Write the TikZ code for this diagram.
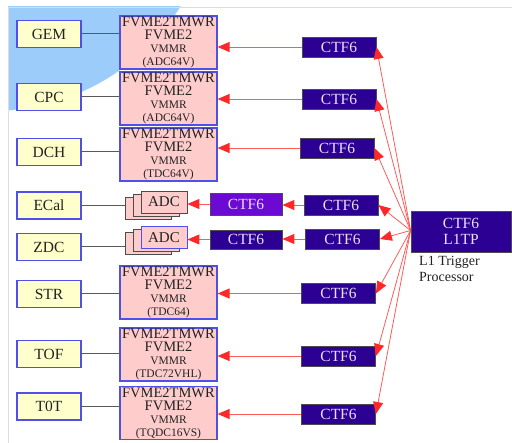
\documentclass[tikz,border=0pt]{standalone}
\usepackage{fontspec}
\setmainfont{Liberation Serif}
\usetikzlibrary{arrows.meta}
\definecolor{detfill}{HTML}{FFFFCC}
\definecolor{detdraw}{HTML}{5050E8}
\definecolor{fvfill}{HTML}{FFCCCC}
\definecolor{ctfdark}{HTML}{2C0092}
\definecolor{ctfpurple}{HTML}{6A0AD2}
\definecolor{ctftext}{HTML}{E8E0FF}
\definecolor{redline}{HTML}{FF5A5A}
\definecolor{redtip}{HTML}{FF2828}
\definecolor{skyblue}{HTML}{9CCCFA}
\definecolor{framegray}{HTML}{DDDDDD}
\definecolor{inktext}{HTML}{222222}
\tikzset{
  det/.style={draw=detdraw, line width=1.2pt, fill=detfill, text=inktext, minimum width=64pt, minimum height=27pt, inner sep=0pt, font=\fontsize{15.5}{15}\selectfont},
  fvme/.style={draw=detdraw, line width=1.2pt, fill=fvfill, text=inktext, minimum width=97pt, minimum height=53pt, inner sep=0pt, align=center, font=\fontsize{14.5}{13}\selectfont},
  ctf/.style={draw=black!70, line width=0.8pt, fill=ctfdark, text=ctftext, minimum width=74pt, minimum height=20pt, inner sep=0pt, font=\fontsize{15.5}{15}\selectfont},
  adcbox/.style={draw=black!70, line width=0.8pt, fill=fvfill, text=inktext, minimum width=46pt, minimum height=22pt, inner sep=0pt, font=\fontsize{15}{15}\selectfont},
  link/.style={draw=black!65, line width=1pt},
  sig/.style={draw=redline, line width=0.9pt, -{Triangle[length=12pt,width=10pt,color=redtip]}},
}
\newcommand{\fvtext}[1]{FVME2TMWR\\FVME2\\\fontsize{11.5}{10}\selectfont VMMR\\\fontsize{11.5}{10}\selectfont #1}
\begin{document}
\begin{tikzpicture}[x=1pt,y=-1pt]
\useasboundingbox (0,0) rectangle (512,443);
\begin{scope}
  \clip (8,7) rectangle (512,443);
  \fill[skyblue] (-9,-113) circle (224pt);
\end{scope}
\draw[framegray, line width=0.8pt] (512,7) -- (8,7) -- (8,443);

% detectors
\node[det] (gem) at (49,34) {GEM};
\node[det] (cpc) at (49,97) {CPC};
\node[det] (dch) at (49,152) {DCH};
\node[det] (ecal) at (49,205.5) {ECal};
\node[det] (zdc) at (49,247) {ZDC};
\node[det] (str) at (49,294) {STR};
\node[det] (tof) at (49,354) {TOF};
\node[det] (tot) at (49,406.5) {T0T};

% FVME modules
\node[fvme] (fgem) at (168.5,42.5) {\fvtext{(ADC64V)}};
\node[fvme] (fcpc) at (168.5,98.5) {\fvtext{(ADC64V)}};
\node[fvme] (fdch) at (168.5,154.5) {\fvtext{(TDC64V)}};
\node[fvme] (fstr) at (168.5,292.5) {\fvtext{(TDC64)}};
\node[fvme] (ftof) at (168.5,354.5) {\fvtext{(TDC72VHL)}};
\node[fvme] (ftot) at (168.5,413) {\fvtext{(TQDC16VS)}};

% ADC stacks
\node[adcbox] (ecalc) at (148,208) {};
\node[adcbox] (ecalb) at (156,205) {};
\node[adcbox] (ecala) at (164,202) {ADC};
\node[adcbox] (zdcc) at (148,243.5) {};
\node[adcbox] (zdcb) at (156,240.5) {};
\node[adcbox, draw=detdraw] (zdca) at (164,237.5) {ADC};

% left CTF6
\node[ctf, fill=ctfpurple, minimum width=72pt, minimum height=22pt] (lecal) at (246,204) {CTF6};
\node[ctf, minimum width=72pt, minimum height=19pt] (lzdc) at (246,239.5) {CTF6};

% middle CTF6
\node[ctf] (cgem) at (339,47) {CTF6};
\node[ctf] (ccpc) at (339,99) {CTF6};
\node[ctf] (cdch) at (337,148) {CTF6};
\node[ctf] (cecal) at (341,205) {CTF6};
\node[ctf] (czdc) at (342.5,239) {CTF6};
\node[ctf] (cstr) at (338.5,293.5) {CTF6};
\node[ctf] (ctof) at (338.5,356) {CTF6};
\node[ctf] (ctot) at (338.5,414) {CTF6};

% L1TP
\node[ctf, minimum width=100pt, minimum height=41pt, align=center, font=\fontsize{15.5}{16}\selectfont] (l1) at (461,231.5) {CTF6\\L1TP};
\node[anchor=north west, inner sep=0pt, align=left, text=inktext, font=\fontsize{14}{16}\selectfont] (l1lab) at (419,256) {L1 Trigger\\Processor};

% detector links
\foreach \d/\f in {gem/fgem, cpc/fcpc, dch/fdch, str/fstr, tof/ftof, tot/ftot}
  \draw[link] (\d.east) -- (\d.east -| \f.west);
\draw[link] (ecal.east) -- (ecal.east -| ecalc.west);
\draw[link] (zdc.east) -- (zdc.east -| zdcc.west);

% CTF6 -> FVME
\foreach \c/\f in {cgem/fgem, ccpc/fcpc, cdch/fdch, cstr/fstr, ctof/ftof, ctot/ftot}
  \draw[sig] (\c.west) -- (\c.west -| \f.east);
\draw[sig] (cecal.west) -- (cecal.west -| lecal.east);
\draw[sig] (lecal.west) -- (lecal.west -| ecala.east);
\draw[sig] (czdc.west) -- (czdc.west -| lzdc.east);
\draw[sig] (lzdc.west) -- (lzdc.west -| zdca.east);

% L1TP fan-out
\coordinate (src) at ([yshift=1pt]l1.west);
\foreach \c in {cgem, ccpc, cdch, cecal, czdc, cstr, ctof, ctot}
  \draw[sig, line width=0.8pt] (src) -- (\c.east);
\end{tikzpicture}
\end{document}
